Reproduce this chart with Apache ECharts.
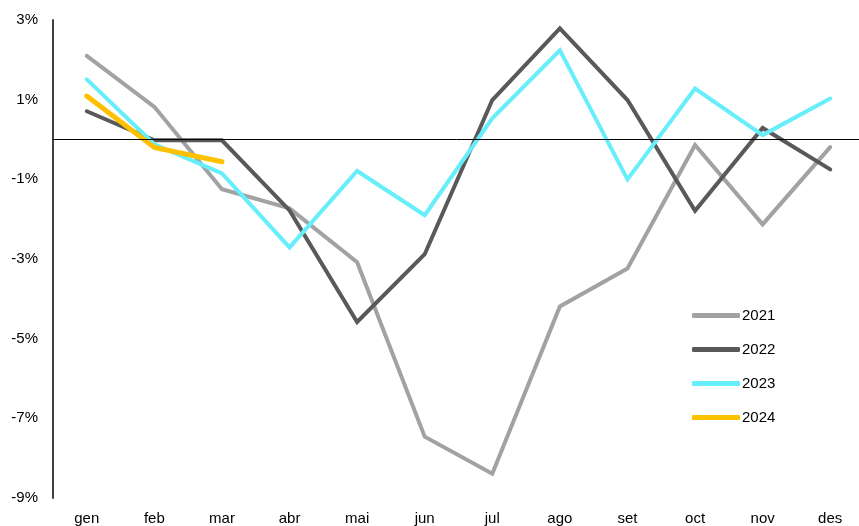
<!DOCTYPE html>
<html>
<head>
<meta charset="utf-8">
<script src="https://cdn.jsdelivr.net/npm/echarts@6/dist/echarts.min.js"></script>
<style>
  html, body { margin: 0; padding: 0; background: #fff; }
  #chart { width: 859px; height: 526px; }
</style>
</head>
<body>
<div id="chart"></div>
<script>
var months = ['gen', 'feb', 'mar', 'abr', 'mai', 'jun', 'jul', 'ago', 'set', 'oct', 'nov', 'des'];
var y2021 = [2.10, 0.82, -1.25, -1.73, -3.08, -7.46, -8.39, -4.19, -3.24, -0.14, -2.13, -0.19];
var y2022 = [0.71, -0.02, -0.02, -1.78, -4.58, -2.88, 0.99, 2.79, 0.99, -1.79, 0.29, -0.75];
var y2023 = [1.51, -0.12, -0.85, -2.71, -0.79, -1.90, 0.53, 2.24, -1.00, 1.28, 0.11, 1.03];
var y2024 = [1.09, -0.20, -0.56];

var chart = echarts.init(document.getElementById('chart'));

function line(name, data, color, width) {
    return {
        name: name,
        type: 'line',
        data: data,
        symbol: 'none',
        showSymbol: false,
        lineStyle: { color: color, width: width, cap: 'round', join: 'miter' },
        itemStyle: { color: color },
        emphasis: { disabled: true }
    };
}

var series = [
    line('2021', y2021, '#a0a2a3', 4),
    line('2022', y2022, '#595959', 4),
    line('2023', y2023, '#66eefb', 4),
    line('2024', y2024, '#ffc000', 5)
];
// linia del zero
series[0].markLine = {
    silent: true,
    symbol: 'none',
    label: { show: false },
    lineStyle: { color: '#000', width: 1, type: 'solid' },
    data: [{ yAxis: 0 }]
};

option = {
    animation: false,
    backgroundColor: '#fff',
    textStyle: { fontFamily: 'Liberation Sans, Arial, sans-serif' },
    grid: {
        left: 53, top: 20, width: 811, height: 478,
        containLabel: false,
        outerBoundsMode: 'none'
    },
    legend: {
        orient: 'vertical',
        left: 692,
        top: 308,
        padding: 0,
        itemWidth: 48,
        itemHeight: 5,
        itemGap: 19,
        icon: 'roundRect',
        textStyle: { fontSize: 15, color: '#000', padding: [0, 0, 0, -3] },
        data: ['2021', '2022', '2023', '2024']
    },
    xAxis: {
        type: 'category',
        data: months,
        boundaryGap: true,
        axisLine: { show: false, onZero: false },
        axisTick: { show: false },
        axisLabel: { fontSize: 15, color: '#000', margin: 13 }
    },
    yAxis: {
        type: 'value',
        min: -9,
        max: 3,
        interval: 2,
        axisLine: { show: true, lineStyle: { color: '#404040', width: 2 } },
        axisTick: { show: false },
        splitLine: { show: false },
        axisLabel: {
            fontSize: 15,
            color: '#000',
            margin: 15,
            formatter: function (v) { return v + '%'; }
        }
    },
    series: series
};

chart.setOption(option);
</script>
</body>
</html>
